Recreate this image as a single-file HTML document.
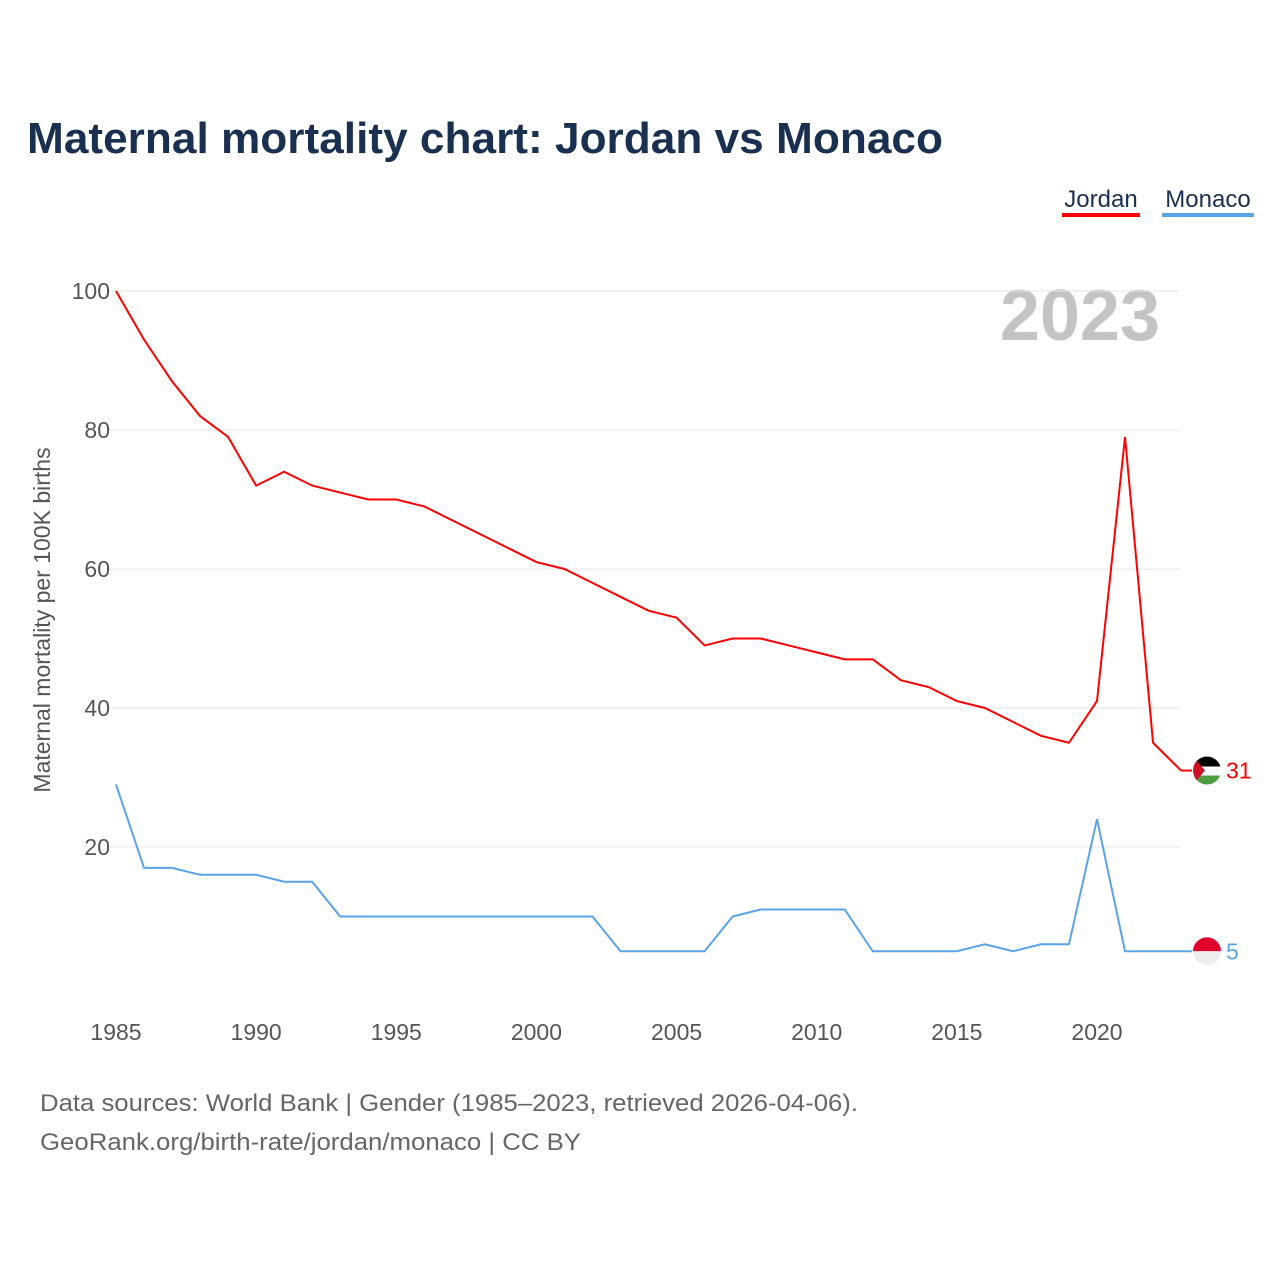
<!DOCTYPE html>
<html><head><meta charset="utf-8">
<style>
body{margin:0;background:#fff;font-family:"Liberation Sans",sans-serif;}
svg text{font-family:"Liberation Sans",sans-serif;}
</style></head>
<body>
<svg width="1280" height="1280" viewBox="0 0 1280 1280" xmlns="http://www.w3.org/2000/svg">
<text x="27" y="153" font-size="44" font-weight="bold" fill="#1a3050" textLength="916" lengthAdjust="spacingAndGlyphs">Maternal mortality chart: Jordan vs Monaco</text>
<g>
<text x="1101" y="207" font-size="24" fill="#1a3050" text-anchor="middle">Jordan</text>
<rect x="1062" y="213" width="78" height="4" fill="#ff0000"/>
<text x="1208" y="207" font-size="24" fill="#1a3050" text-anchor="middle">Monaco</text>
<rect x="1162" y="213" width="92" height="4" fill="#5ba3e8"/>
</g>
<text x="1160" y="340" font-size="72" font-weight="bold" fill="#c4c4c4" text-anchor="end">2023</text>
<g id="grid"></g>
<g id="yt"></g>
<g id="xt"></g>
<text transform="translate(50,620) rotate(-90)" font-size="23" fill="#555" text-anchor="middle">Maternal mortality per 100K births</text>
<g id="series"></g>
<text x="40" y="1111" font-size="24" fill="#666" textLength="818" lengthAdjust="spacingAndGlyphs">Data sources: World Bank | Gender (1985–2023, retrieved 2026-04-06).</text>
<text x="40" y="1150" font-size="24" fill="#666" textLength="541" lengthAdjust="spacingAndGlyphs">GeoRank.org/birth-rate/jordan/monaco | CC BY</text>
</svg>
<script>
const years=[];for(let y=1985;y<=2023;y++)years.push(y);
const jordan=[100,93,87,82,79,72,74,72,71,70,70,69,67,65,63,61,60,58,56,54,53,49,50,50,49,48,47,47,44,43,41,40,38,36,35,41,79,35,31];
const monaco=[29,17,17,16,16,16,15,15,10,10,10,10,10,10,10,10,10,10,5,5,5,5,10,11,11,11,11,5,5,5,5,6,5,6,6,24,5,5,5];
const yTicks=[20,40,60,80,100];
const xTicks=[1985,1990,1995,2000,2005,2010,2015,2020];
const NS='http://www.w3.org/2000/svg';
const X=v=>116+(v-1985)*(981/35);
const Y=v=>986-v*6.95;
function mk(t,a,p){const e=document.createElementNS(NS,t);for(const k in a)e.setAttribute(k,a[k]);p.appendChild(e);return e;}
const grid=document.getElementById('grid'),yt=document.getElementById('yt'),xt=document.getElementById('xt'),ser=document.getElementById('series');
yTicks.forEach(v=>{
 const l=mk('line',{x1:110,x2:1180,y1:Y(v),y2:Y(v),stroke:'#e6e6e6','stroke-width':1},grid);
 
 
 const t=mk('text',{x:110,y:Y(v)+8,'font-size':23,fill:'#555','text-anchor':'end'},yt);t.textContent=v;
 
 
});
xTicks.forEach(v=>{
 const t=mk('text',{x:X(v),y:1040,'font-size':23,fill:'#555','text-anchor':'middle'},xt);t.textContent=v;
 
 
});
function line(vals,col,name){
 const p=mk('polyline',{points:vals.map((v,i)=>X(years[i])+','+Y(v)).join(' '),fill:'none',stroke:col,'stroke-width':2},ser);
 
 
 const last=vals[vals.length-1];
 const cy=Y(last);
 const g=mk('g',{},ser);
 
 
 mk('line',{x1:X(2023),x2:1192,y1:cy,y2:cy,stroke:col,'stroke-width':2},g);
 const t=mk('text',{x:1226,y:cy+8,'font-size':23,fill:col},g);t.textContent=last;
 
 
 return {g,cy};
}
const j=line(jordan,'#ff0000','jordan');
const m=line(monaco,'#5ba3e8','monaco');
const cj=j.cy, cm=m.cy;
const fj=j.g;
const cp1=mk('clipPath',{id:'cj'},fj);mk('circle',{cx:1207,cy:cj,r:14},cp1);
const gj=mk('g',{'clip-path':'url(#cj)'},fj);
mk('rect',{x:1193,y:cj-14,width:28,height:10,fill:'#000'},gj);
mk('rect',{x:1193,y:cj-4,width:28,height:9,fill:'#fff'},gj);
mk('rect',{x:1193,y:cj+5,width:28,height:10,fill:'#4e9a3e'},gj);
mk('polygon',{points:`1193,${cj-14} 1205,${cj} 1193,${cj+14}`,fill:'#ce1126'},gj);
const fm=m.g;
const cp2=mk('clipPath',{id:'cm'},fm);mk('circle',{cx:1207,cy:cm,r:14},cp2);
const gm=mk('g',{'clip-path':'url(#cm)'},fm);
mk('rect',{x:1193,y:cm-14,width:28,height:14,fill:'#e0002a'},gm);
mk('rect',{x:1193,y:cm,width:28,height:14,fill:'#eee'},gm);
</script>
</body></html>
